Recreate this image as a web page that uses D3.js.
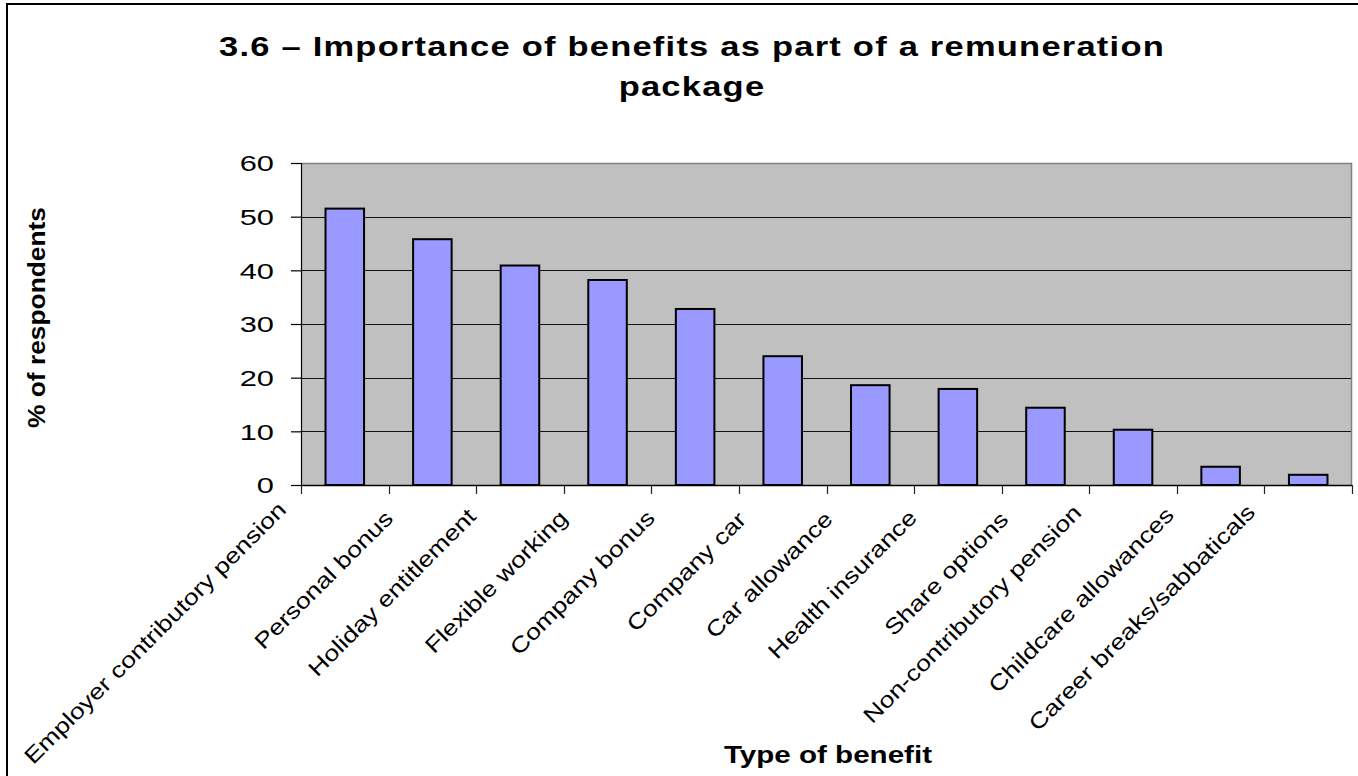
<!DOCTYPE html>
<html>
<head>
<meta charset="utf-8">
<script src="https://cdn.jsdelivr.net/npm/d3@7/dist/d3.min.js"></script>
<style>
  html, body { margin: 0; padding: 0; background: #fff; }
  svg { display: block; }
  text { font-family: "Liberation Sans", Arial, sans-serif; fill: #000; }
</style>
</head>
<body>
<svg id="chart" width="1358" height="776"></svg>
<script>
// Benefit categories, in the order they appear along the x axis
const categories = [
  "Employer contributory pension",
  "Personal bonus",
  "Holiday entitlement",
  "Flexible working",
  "Company bonus",
  "Company car",
  "Car allowance",
  "Health insurance",
  "Share options",
  "Non-contributory pension",
  "Childcare allowances",
  "Career breaks/sabbaticals"
];

// Share of respondents rating each benefit as important (%)
const values = [51.5, 45.8, 40.9, 38.2, 32.8, 24.0, 18.6, 17.9, 14.4, 10.3, 3.4, 1.9];

// Value axis ticks
const yTicks = [0, 10, 20, 30, 40, 50, 60];

const titleLines = ["3.6 \u2013 Importance of benefits as part of a remuneration", "package"];
const xTitle = "Type of benefit";
const yTitle = "% of respondents";

const svg = d3.select("#chart");
const W = 1358, H = 776;

// Plot area
const plot = { left: 301, right: 1352, top: 163, bottom: 485 };

// Outer chart frame
svg.append("rect")
  .attr("x", 7).attr("y", 4)
  .attr("width", W + 20).attr("height", H + 20)
  .attr("fill", "#fff").attr("stroke", "#000").attr("stroke-width", 2);

const x = d3.scaleBand()
  .domain(categories)
  .range([plot.left, plot.right])
  .paddingInner(0.56)
  .paddingOuter(0.28);

const y = d3.scaleLinear()
  .domain([0, 60])
  .range([plot.bottom, plot.top]);

// Grey plot background
svg.append("rect")
  .attr("x", plot.left).attr("y", plot.top)
  .attr("width", plot.right - plot.left).attr("height", plot.bottom - plot.top)
  .attr("fill", "#C0C0C0");

// Horizontal gridlines
svg.append("g")
  .selectAll("line")
  .data(yTicks.filter(v => v > 0 && v < 60))
  .join("line")
  .attr("x1", plot.left).attr("x2", plot.right)
  .attr("y1", d => Math.round(y(d)) + 0.5).attr("y2", d => Math.round(y(d)) + 0.5)
  .attr("stroke", "#111").attr("stroke-width", 1.2);

// Plot area border (top and right)
svg.append("path")
  .attr("d", `M${plot.left},${plot.top + 0.5}H${plot.right - 0.5}V${plot.bottom}`)
  .attr("fill", "none").attr("stroke", "#808080").attr("stroke-width", 1.5);

// Bars
svg.append("g")
  .selectAll("rect")
  .data(values)
  .join("rect")
  .attr("x", (d, i) => x(categories[i]))
  .attr("y", d => y(d))
  .attr("width", x.bandwidth())
  .attr("height", d => y(0) - y(d))
  .attr("fill", "#9999FF")
  .attr("stroke", "#000")
  .attr("stroke-width", 2);

// Value axis
const yAxis = svg.append("g")
  .attr("transform", `translate(${plot.left},0)`)
  .call(d3.axisLeft(y).tickValues(yTicks).tickSize(10).tickPadding(0).tickFormat(d3.format("d")));
yAxis.select(".domain").attr("stroke", "#000").attr("stroke-width", 1.2);
yAxis.selectAll(".tick line").attr("stroke", "#000").attr("stroke-width", 1.2);
yAxis.selectAll(".tick text")
  .attr("x", -27)
  .attr("dy", "0.36em")
  .style("font-size", "22px")
  .attr("text-anchor", "end")
  .each(function () {
    const w = this.getComputedTextLength();
    d3.select(this).attr("textLength", w * 1.4).attr("lengthAdjust", "spacingAndGlyphs");
  });

// Category axis: line plus ticks on the boundaries between categories
const step = x.step();
const boundaries = d3.range(categories.length + 1).map(i => plot.left + i * step);
svg.append("line")
  .attr("x1", plot.left).attr("x2", plot.right)
  .attr("y1", plot.bottom + 0.5).attr("y2", plot.bottom + 0.5)
  .attr("stroke", "#000").attr("stroke-width", 1.5);
svg.append("g")
  .selectAll("line")
  .data(boundaries)
  .join("line")
  .attr("x1", d => Math.round(d) + 0.5).attr("x2", d => Math.round(d) + 0.5)
  .attr("y1", plot.bottom).attr("y2", plot.bottom + 9)
  .attr("stroke", "#222").attr("stroke-width", 1.2);

// Rotated category labels; longer labels sit a little further out from their bar
svg.append("g")
  .selectAll("text")
  .data(categories)
  .join("text")
  .text(d => d)
  .style("font-size", "22px")
  .attr("text-anchor", "end")
  .each(function (d) {
    const t = d3.select(this);
    const len = this.getComputedTextLength() * 1.21;
    t.attr("textLength", len).attr("lengthAdjust", "spacingAndGlyphs");
    const cx = x(d) + x.bandwidth() / 2;
    const ax = cx - 17.7 - 0.11 * len;
    const ay = 529 - 0.05 * len;
    t.attr("transform", `translate(${ax},${ay}) rotate(-45)`);
  });

// Chart title
const title = svg.append("g");
const t1 = title.append("text")
  .attr("x", 692).attr("y", 56)
  .attr("text-anchor", "middle")
  .style("font-size", "28px").style("font-weight", "bold")
  .style("letter-spacing", "1px")
  .text(titleLines[0]);
const natural1 = t1.node().getComputedTextLength();
const stretch = 946 / natural1;
t1.attr("textLength", 946).attr("lengthAdjust", "spacingAndGlyphs");
const t2 = title.append("text")
  .attr("x", 692).attr("y", 96)
  .attr("text-anchor", "middle")
  .style("font-size", "28px").style("font-weight", "bold")
  .style("letter-spacing", "1px")
  .text(titleLines[1]);
t2.attr("textLength", t2.node().getComputedTextLength() * stretch).attr("lengthAdjust", "spacingAndGlyphs");

// Axis titles
svg.append("text")
  .attr("x", 828).attr("y", 763)
  .attr("text-anchor", "middle")
  .style("font-size", "24px").style("font-weight", "bold")
  .attr("textLength", 208).attr("lengthAdjust", "spacingAndGlyphs")
  .text(xTitle);

svg.append("text")
  .attr("transform", `translate(45,${(plot.top + plot.bottom) / 2 - 6.5}) rotate(-90)`)
  .attr("text-anchor", "middle")
  .style("font-size", "23px").style("font-weight", "bold")
  .attr("textLength", 221).attr("lengthAdjust", "spacingAndGlyphs")
  .text(yTitle);
</script>
</body>
</html>
